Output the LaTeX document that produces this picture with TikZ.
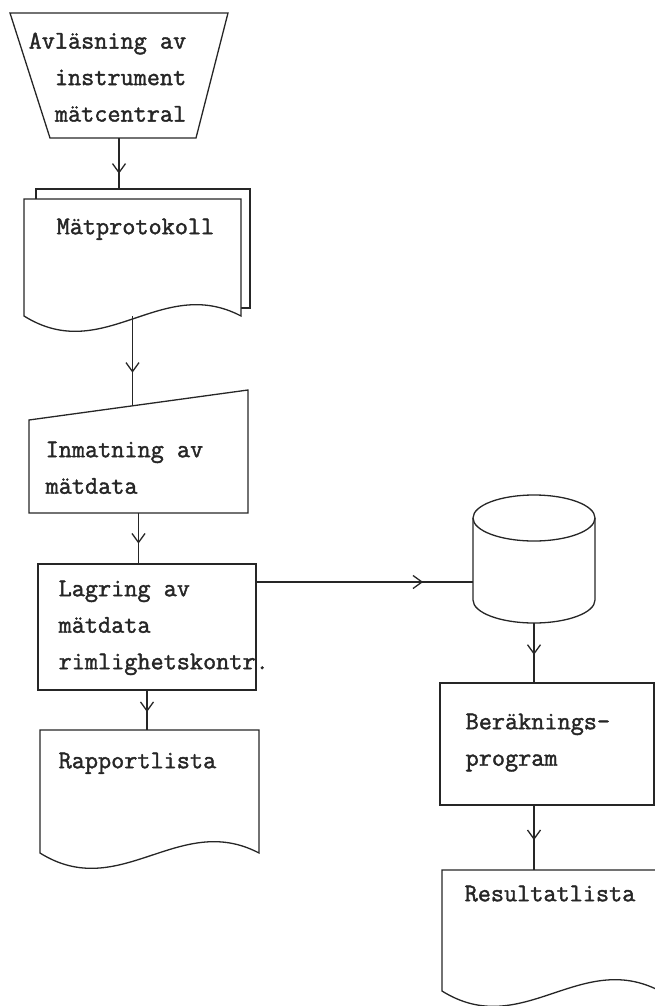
\documentclass[tikz,border=0pt]{standalone}
\usepackage{fontspec}
\newfontfamily\typefont{Latin Modern Mono}[FakeBold=1.6]
\usetikzlibrary{positioning}
\usetikzlibrary{arrows.meta}
\usetikzlibrary{decorations.markings}

\begin{document}
\begin{tikzpicture}[x=1pt, y=-1pt, line width=1.3pt, color=black!85,
	frame/.style={draw=none, rectangle, inner sep=0pt, outer sep=0pt},
	block/.style={draw, rectangle, inner sep=0pt, outer sep=0pt},
	txt/.style={anchor=north west, inner sep=0pt, align=left, font=\fontsize{25.5pt}{36.5pt}\selectfont\typefont},
	docwave/.style={to path={.. controls +(-80,-42) and +(80,50) .. (\tikztotarget)}},
	flow/.style={draw, postaction={decorate}, decoration={markings, mark=at position #1 with {\arrow{Straight Barb[length=9pt, width=13pt]}}}},
	flow/.default=0.6]
	\useasboundingbox (0,0) rectangle (655,1006);
	\clip (0,0) rectangle (655,1006);
	% left column
	\node (avl) [frame, minimum width=218pt, minimum height=125pt] at (119,75.5) {};
	\draw (avl.north west) -- (avl.north east) -- ([xshift=-32pt]avl.south east) -- ([xshift=40pt]avl.south west) -- cycle;
	\node (mat) [frame, minimum width=217pt, minimum height=117pt] at (132.5,257.5) {};
	\draw ([xshift=12pt]mat.north west) -- ++(0,-10) -| ([xshift=9pt, yshift=8pt]mat.south east) -- ([yshift=8pt]mat.south east);
	\draw[fill=white] (mat.north west) -- (mat.north east) -- (mat.south east) to[docwave] (mat.south west) -- cycle;
	\node (inm) [frame, minimum width=219pt, minimum height=123pt] at (138.5,451.5) {};
	\draw ([yshift=-30pt]inm.north west) -- (inm.north east) -- (inm.south east) -- (inm.south west) -- cycle;
	\node (lag) [block, minimum width=218pt, minimum height=126pt] at (147,627) {};
	\node (rap) [frame, minimum width=219pt, minimum height=123pt] at (149.5,791.5) {};
	\draw (rap.north west) -- (rap.north east) -- (rap.south east) to[docwave] (rap.south west) -- cycle;
	% right column
	\node (db) [frame, minimum width=122pt, minimum height=128pt] at (534,559) {};
	\draw ([yshift=-23pt]db.north) ellipse [x radius=61pt, y radius=23pt];
	\draw ([yshift=-23pt]db.north west) -- ([yshift=23pt]db.south west) arc[start angle=180, end angle=360, x radius=61pt, y radius=23pt] -- ([yshift=-23pt]db.north east);
	\node (ber) [block, minimum width=214pt, minimum height=122pt] at (547,744) {};
	\node (res) [frame, minimum width=218pt, minimum height=121pt] at (551,930.5) {};
	\draw (res.north west) -- (res.north east) -- (res.south east) to[docwave] (res.south west) -- cycle;
	% texts
	\node (avl-t) [txt, below right=19pt and 18pt of avl.north west] {Avläsning av\\\phantom{Av}instrument\\\phantom{Av}mätcentral};
	\node (mat-t) [txt, below right=19pt and 32pt of mat.north west] {Mätprotokoll};
	\node (inm-t) [txt, below right=51pt and 16pt of inm.north west] {Inmatning av\\mätdata};
	\node (lag-t) [txt, below right=16pt and 20pt of lag.north west] {Lagring av\\mätdata\\rimlighetskontr.};
	\node (rap-t) [txt, below right=22pt and 18pt of rap.north west] {Rapportlista};
	\node (ber-t) [txt, below right=30pt and 25pt of ber.north west] {Beräknings-\\program};
	\node (res-t) [txt, below right=15pt and 22pt of res.north west] {Resultatlista};
	% connectors
	\coordinate (mat-in) at ([yshift=10pt]mat.north);
	\coordinate (inm-in) at ([yshift=-16pt]inm.north);
	\coordinate (lag-out) at ([yshift=45pt]lag.east);
	\draw[flow=0.7] (avl.south) -- (avl.south |- mat-in);
	\draw[flow=0.63] (mat.south) -- (mat.south |- inm-in);
	\draw[flow] (inm.south) -- (inm.south |- lag.north);
	\draw[flow=0.55] (lag.south) -- (lag.south |- rap.north);
	\draw[flow=0.77] (lag-out) -- (lag-out -| db.west);
	\draw[flow=0.53] (db.south) -- (db.south |- ber.north);
	\draw[flow=0.54] (db.south |- ber.south) -- (db.south |- res.north);
\end{tikzpicture}
\end{document}
